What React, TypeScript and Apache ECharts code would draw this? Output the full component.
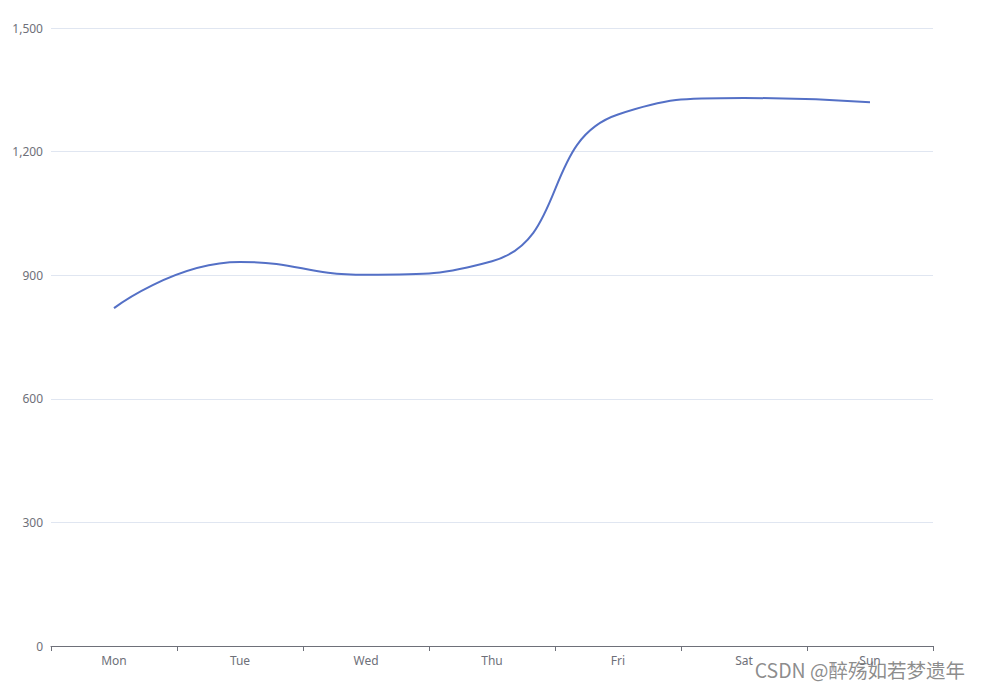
import React, { useEffect, useRef } from "react";
import * as echarts from "echarts";

const categories = ["Mon", "Tue", "Wed", "Thu", "Fri", "Sat", "Sun"];
const values = [820, 932, 901, 934, 1290, 1330, 1320];
const watermark = "CSDN @醉殇如若梦遗年";

export default function App() {
  const ref = useRef<HTMLDivElement>(null);
  useEffect(() => {
    document.body.style.margin = "0";
    const chart = echarts.init(ref.current!, null, { renderer: "svg" });
    chart.setOption({
      animation: false,
      textStyle: { fontFamily: "'Noto Sans', sans-serif" },
      grid: { left: 51, right: 48, top: 28, bottom: 40, containLabel: false },
      xAxis: {
        type: "category",
        data: categories,
        boundaryGap: true,
        axisLine: { show: true, lineStyle: { color: "#6e7079" } },
        axisTick: { show: true, alignWithLabel: false, length: 5, lineStyle: { color: "#6e7079" } },
        axisLabel: { color: "#6e7079", fontSize: 12, margin: 8 },
      },
      yAxis: {
        type: "value",
        min: 0,
        max: 1500,
        interval: 300,
        axisLabel: { color: "#6e7079", fontSize: 12 },
        splitLine: { lineStyle: { color: "#E0E6F1" } },
      },
      series: [
        {
          type: "line",
          data: values,
          smooth: true,
          showSymbol: false,
          lineStyle: { color: "#5470c6", width: 2 },
          itemStyle: { color: "#5470c6" },
        },
      ],
      graphic: [
        {
          type: "text",
          right: 16,
          bottom: 7,
          style: {
            text: watermark,
            fill: "rgba(120,120,120,0.85)",
            font: "19.5px 'Noto Sans CJK SC', 'Noto Sans', sans-serif",
          },
          z: 100,
        },
      ],
    });
    return () => chart.dispose();
  }, []);
  return <div ref={ref} style={{ width: 981, height: 686 }} />;
}
